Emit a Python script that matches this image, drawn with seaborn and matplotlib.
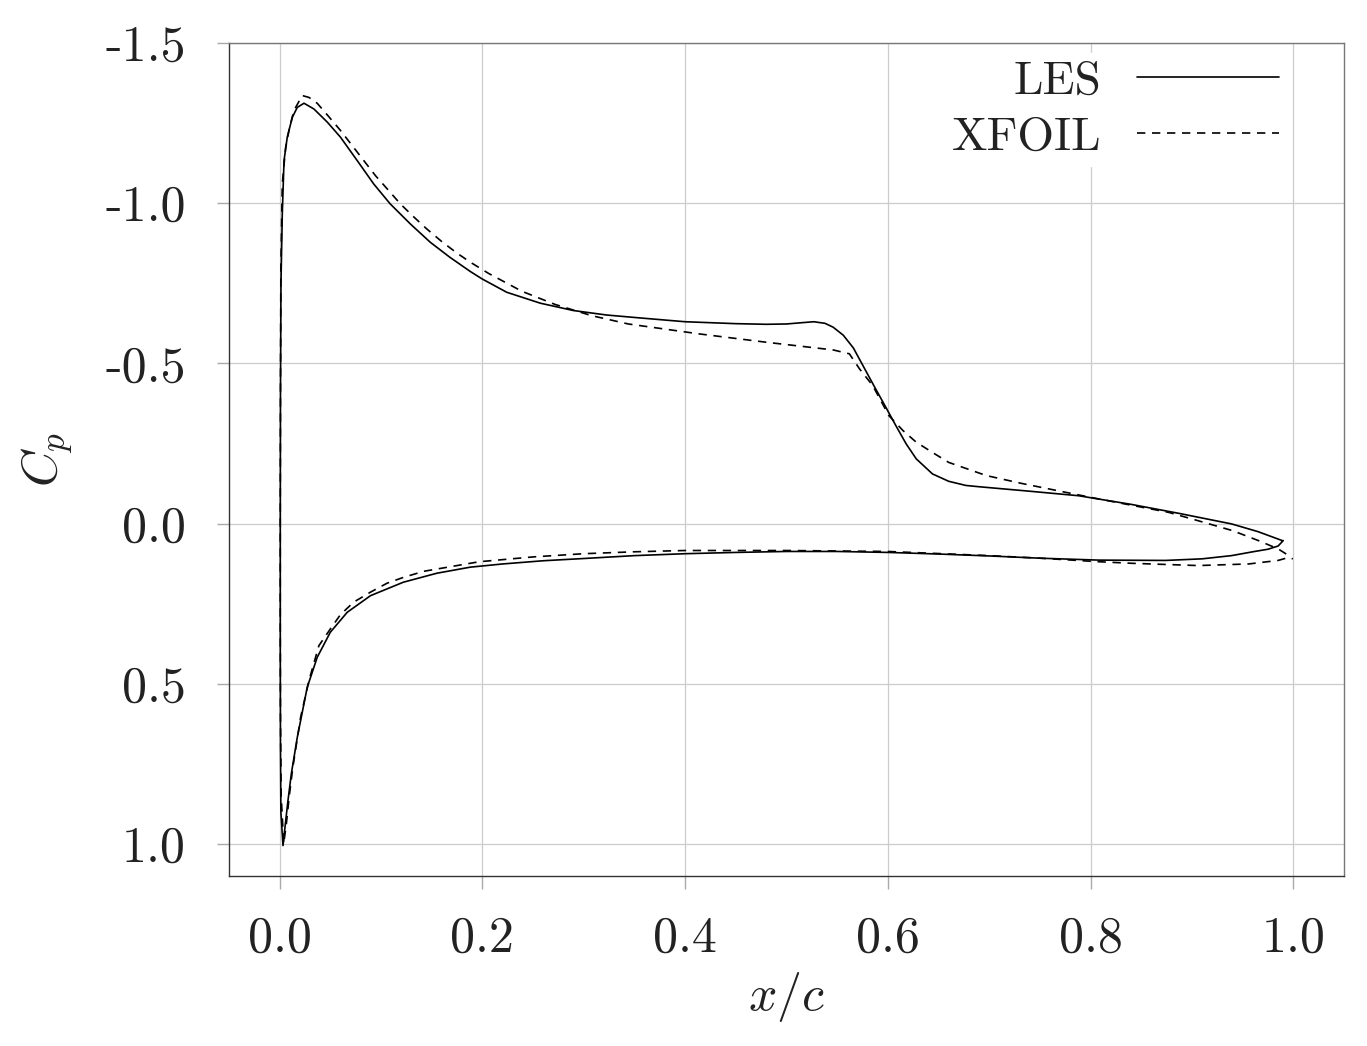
import pandas as pd
import matplotlib.pyplot as plt
import seaborn as sns
from matplotlib.ticker import FormatStrFormatter

# LES, upper surface (stagnation -> trailing edge)
les_upper_x = [0.0033, 0.0012, 0.0008, 0.0006, 0.0006, 0.0008, 0.0013, 0.0026,
               0.0043, 0.0075, 0.0125, 0.0174, 0.024, 0.0338, 0.047, 0.060,
               0.0765, 0.0928, 0.109, 0.129, 0.1486, 0.168, 0.188, 0.1995,
               0.224, 0.257, 0.2897, 0.3225, 0.355, 0.400, 0.450, 0.480, 0.500,
               0.515, 0.527, 0.538, 0.546, 0.556, 0.566, 0.578, 0.588, 0.598,
               0.608, 0.618, 0.628, 0.644, 0.660, 0.677, 0.690, 0.740, 0.788,
               0.840, 0.887, 0.939, 0.965, 0.989]
les_upper_cp = [1.005, 0.90, 0.70, 0.40, 0.0, -0.40, -0.75, -0.967,
                -1.133, -1.206, -1.268, -1.299, -1.312, -1.294, -1.253, -1.206,
                -1.133, -1.06, -0.998, -0.935, -0.878, -0.831, -0.787, -0.764,
                -0.722, -0.688, -0.665, -0.651, -0.642, -0.630, -0.624, -0.622, -0.623,
                -0.627, -0.630, -0.625, -0.613, -0.588, -0.548, -0.478, -0.42, -0.363,
                -0.305, -0.249, -0.202, -0.155, -0.132, -0.119, -0.115, -0.101, -0.087,
                -0.060, -0.032, 0.001, 0.025, 0.053]

# LES, lower surface (stagnation -> trailing edge)
les_lower_x = [0.0033, 0.0049, 0.008, 0.0115, 0.0174, 0.0272, 0.0371, 0.050,
               0.0666, 0.0896, 0.122, 0.155, 0.188, 0.220, 0.260, 0.300, 0.350,
               0.400, 0.450, 0.500, 0.550, 0.600, 0.650, 0.700, 0.750, 0.808,
               0.874, 0.910, 0.939, 0.960, 0.975, 0.985, 0.990]
les_lower_cp = [1.005, 0.958, 0.87, 0.781, 0.667, 0.511, 0.417, 0.339,
                0.277, 0.225, 0.183, 0.155, 0.136, 0.126, 0.116, 0.109, 0.100,
                0.094, 0.090, 0.087, 0.087, 0.090, 0.095, 0.101, 0.108, 0.114,
                0.115, 0.110, 0.100, 0.088, 0.080, 0.070, 0.053]

# XFOIL, upper surface
xfoil_upper_x = [0.004, 0.0015, 0.0008, 0.0006, 0.0006, 0.0008, 0.0012, 0.0026,
                 0.0059, 0.0092, 0.014, 0.0223, 0.029, 0.037, 0.0485, 0.060,
                 0.0715, 0.083, 0.0945, 0.106, 0.119, 0.132, 0.145, 0.160, 0.175,
                 0.188, 0.206, 0.239, 0.2717, 0.3077, 0.344, 0.414, 0.480, 0.546,
                 0.562, 0.572, 0.585, 0.601, 0.615, 0.628, 0.645, 0.660, 0.697,
                 0.731, 0.767, 0.803, 0.877, 0.906, 0.940, 0.9655, 0.985, 0.993]
xfoil_upper_cp = [0.999, 0.85, 0.60, 0.30, 0.0, -0.40, -0.80, -1.06,
                  -1.174, -1.227, -1.289, -1.336, -1.33, -1.312, -1.27, -1.227,
                  -1.18, -1.133, -1.086, -1.045, -0.998, -0.958, -0.920, -0.880, -0.844,
                  -0.816, -0.781, -0.725, -0.684, -0.649, -0.623, -0.592, -0.566, -0.542,
                  -0.530, -0.483, -0.431, -0.337, -0.29, -0.254, -0.22, -0.191, -0.150,
                  -0.126, -0.103, -0.080, -0.035, -0.009, 0.022, 0.053, 0.079, 0.095]

# XFOIL, lower surface
xfoil_lower_x = [0.004, 0.0066, 0.0095, 0.013, 0.0207, 0.0289, 0.0387, 0.050,
                 0.060, 0.0731, 0.0896, 0.106, 0.122, 0.142, 0.175, 0.197, 0.250,
                 0.300, 0.350, 0.400, 0.500, 0.600, 0.700, 0.750, 0.808, 0.841,
                 0.906, 0.956, 0.985, 0.995, 0.9995]
xfoil_lower_cp = [0.999, 0.937, 0.85, 0.761, 0.604, 0.49, 0.381, 0.329,
                  0.284, 0.245, 0.214, 0.186, 0.168, 0.149, 0.131, 0.119, 0.104,
                  0.094, 0.088, 0.084, 0.084, 0.087, 0.100, 0.108, 0.119, 0.124,
                  0.131, 0.126, 0.115, 0.106, 0.110]

x_ticks = [0.0, 0.2, 0.4, 0.6, 0.8, 1.0]
y_ticks = [-1.5, -1.0, -0.5, 0.0, 0.5, 1.0]


def closed_loop(ux, ucp, lx, lcp):
    # trailing edge (upper) -> leading edge -> trailing edge (lower)
    return pd.DataFrame({"x": ux[::-1] + lx[1:], "cp": ucp[::-1] + lcp[1:]})


les = closed_loop(les_upper_x, les_upper_cp, les_lower_x, les_lower_cp)
xfoil = closed_loop(xfoil_upper_x, xfoil_upper_cp, xfoil_lower_x, xfoil_lower_cp)

sns.set_theme(style="whitegrid")
plt.rcParams["font.family"] = ["cmr10", "DejaVu Serif"]
plt.rcParams["mathtext.fontset"] = "cm"
plt.rcParams["axes.unicode_minus"] = False
plt.rcParams["axes.formatter.use_mathtext"] = True
plt.rcParams["xtick.bottom"] = True
plt.rcParams["ytick.left"] = True

fig = plt.figure(figsize=(13.67, 10.46), dpi=100)
ax = fig.add_axes([0.1675, 0.1625, 0.8157, 0.7964])

sns.lineplot(data=les, x="x", y="cp", sort=False, estimator=None,
             color="black", lw=1.2, label="LES", ax=ax)
sns.lineplot(data=xfoil, x="x", y="cp", sort=False, estimator=None,
             color="black", lw=1.2, ls=(0, (5, 4)), label="XFOIL", ax=ax)

ax.set_xlim(-0.05, 1.05)
ax.set_ylim(1.1, -1.5)
ax.set_xticks(x_ticks)
ax.set_yticks(y_ticks)
ax.xaxis.set_major_formatter(FormatStrFormatter("%.1f"))
ax.yaxis.set_major_formatter(FormatStrFormatter("%.1f"))

ax.grid(True, color="#cccccc", lw=0.9)
ax.tick_params(axis="both", which="major", bottom=True, left=True,
               labelsize=36, length=9, width=1.0, color="#aaaaaa",
               direction="out", pad=22, labelcolor="#222222")
ax.tick_params(axis="x", pad=20)
for side in ["left", "bottom"]:
    ax.spines[side].set_color("#333333")
    ax.spines[side].set_linewidth(1.0)
for side in ["top", "right"]:
    ax.spines[side].set_color("#777777")
    ax.spines[side].set_linewidth(1.0)

ax.set_xlabel("$x/c$", fontsize=36, color="#222222", labelpad=6)
ax.set_ylabel("$C_p$", fontsize=36, color="#222222", labelpad=22)

leg = ax.legend(loc="upper right", bbox_to_anchor=(0.969, 1.016),
                fontsize=34, markerfirst=False, handlelength=3.0,
                handletextpad=0.75, labelspacing=0.30, borderpad=0.15,
                frameon=True, fancybox=False)
leg.get_frame().set_facecolor("white")
leg.get_frame().set_edgecolor("white")
leg.get_frame().set_alpha(1.0)
leg.set_zorder(2)
for t in leg.get_texts():
    t.set_color("#222222")

fig.savefig("out.png", dpi=100)
